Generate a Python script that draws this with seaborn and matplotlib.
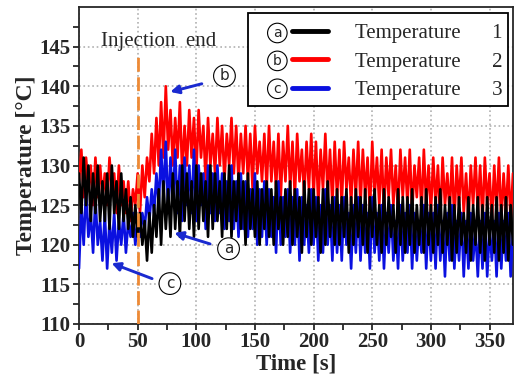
import numpy as np
import pandas as pd
import seaborn as sns
import matplotlib.pyplot as plt
from matplotlib.lines import Line2D
from matplotlib.patches import Rectangle

# time axis, one reading every 2 s
time_step = 2
t1 = [129,124,131,125,130,123,129,124,130,123,
      128,123,129,122,130,124,128,122,129,123,
      127,122,126,121,125,121,124,120,123,118,
      124,119,125,121,127,120,128,122,127,121,
      129,122,128,121,130,123,129,122,128,121,
      130,122,129,123,128,121,130,122,129,123,
      128,121,129,122,130,121,128,123,129,122,
      128,120,129,122,127,121,128,120,127,122,
      128,121,127,120,128,122,126,120,127,121,
      128,120,127,121,126,119,128,121,127,120,
      127,121,126,119,127,120,128,121,126,120,
      127,120,126,121,127,119,126,120,127,121,
      126,120,127,119,126,121,127,120,125,119,
      127,120,126,121,125,119,127,120,126,119,
      126,120,127,119,125,120,126,119,127,120,
      125,119,126,120,127,119,125,120,126,118,
      125,119,126,120,124,119,126,118,125,120,
      126,119,125,118,126,120,125,119,126,118,
      125,119,126,118,125,120]
t2 = [128,132,126,131,127,130,125,131,126,130,
      126,129,125,131,127,129,124,130,125,128,
      124,128,123,127,125,129,124,130,126,131,
      128,134,129,136,130,138,131,140,132,137,
      130,136,131,138,129,135,130,137,131,136,
      129,137,131,135,128,136,130,134,129,136,
      130,135,128,134,130,136,129,135,128,134,
      129,135,128,134,127,135,129,133,128,134,
      127,135,128,133,127,134,126,133,128,135,
      127,133,126,134,128,132,126,133,127,134,
      126,133,125,132,127,134,126,132,125,133,
      126,132,125,133,127,131,125,132,126,133,
      125,132,126,131,124,133,126,131,125,132,
      124,131,126,132,125,130,124,132,126,131,
      125,132,124,130,126,131,124,132,125,130,
      124,131,125,130,123,131,125,129,124,131,
      123,130,125,131,124,129,123,130,125,131,
      124,130,123,131,125,129,123,130,124,131,
      123,129,124,130,123,129]
t3 = [117,125,120,127,121,124,119,126,120,123,
      118,124,117,123,119,124,118,123,120,124,
      119,123,121,124,120,123,121,124,122,126,
      123,127,124,129,125,132,126,133,124,131,
      125,132,124,130,123,131,125,130,124,132,
      123,130,125,129,122,130,124,129,123,130,
      124,129,122,128,123,130,122,128,121,129,
      122,128,121,127,122,129,120,127,121,128,
      120,127,121,126,119,128,120,126,121,127,
      119,126,120,127,118,126,120,125,119,127,
      120,126,118,125,119,127,120,125,118,126,
      119,125,118,126,120,124,117,125,119,126,
      118,125,119,124,117,126,119,124,118,125,
      117,124,119,125,118,123,117,125,118,124,
      119,125,117,124,118,123,119,125,117,124,
      118,124,117,125,118,123,116,124,118,125,
      117,123,118,124,116,123,117,124,118,122,
      116,123,117,124,116,122,118,123,116,124,
      117,123,118,124,116,122]
series_names = ['Temperature 1', 'Temperature 2', 'Temperature 3']
series_tags = ['a', 'b', 'c']
colors = ['black', '#ff0000', '#0a10e0']
injection_end = 50

time = np.arange(len(t1)) * time_step
df = pd.concat([pd.DataFrame({'Time': time, 'T': v, 'series': n})
                for v, n in zip([t1, t2, t3], series_names)])

sns.set_style('ticks')
plt.rcParams['font.family'] = ['Liberation Serif', 'DejaVu Sans']

fig, ax = plt.subplots(figsize=(5.15, 3.83), dpi=100)
fig.subplots_adjust(left=79/515, right=513/515, top=1-7/383, bottom=1-324/383)

# red first, then blue, black on top
for name in [series_names[1], series_names[2], series_names[0]]:
    c = colors[series_names.index(name)]
    sns.lineplot(data=df[df.series == name], x='Time', y='T', color=c,
                 lw=1.9, estimator=None, sort=False, ax=ax, zorder=3)

ax.set_xlim(0, 370)
ax.set_ylim(110, 150)
ax.set_xticks(range(0, 351, 50))
ax.set_xticks(range(25, 370, 50), minor=True)
ax.set_yticks(range(110, 146, 5))
ax.set_yticks(np.arange(112.5, 150, 5), minor=True)
ax.grid(True, which='major', color='#b0b0b0', ls=':', lw=1.2)
ax.tick_params(which='both', direction='out', length=4, width=1.3, pad=2)
for lab in ax.get_xticklabels() + ax.get_yticklabels():
    lab.set_fontweight('bold')
    lab.set_fontsize(15)
for s in ax.spines.values():
    s.set_linewidth(1.3)
ax.set_xlabel('Time [s]', fontsize=16.5, fontweight='bold', labelpad=1)
ax.set_ylabel('Temperature [°C]', fontsize=17, fontweight='bold', labelpad=2)

# injection end marker
ax.plot([injection_end, injection_end], [110, 144], color='#ee8a35', lw=2,
        ls=(0, (5, 2)), zorder=4)
ax.text(68, 145.6, 'Injection  end', fontsize=15, ha='center', va='center')

# arrows with circled tags
arrow_blue = '#1a2ad0'
notes = [('b', (75.5, 139.2), (107, 140.4), (124, 141.3)),
         ('a', (79, 121.6), (114, 120.0), (127.5, 119.5)),
         ('c', (25.5, 117.8), (64.5, 115.6), (77.5, 115.1))]
for tag, tip, tail, lbl in notes:
    ax.annotate('', xy=tip, xytext=tail,
                arrowprops=dict(arrowstyle='-|>,head_length=0.5,head_width=0.25',
                                color=arrow_blue, lw=2.1), zorder=6)
    ax.text(lbl[0], lbl[1], tag, fontsize=11, family='DejaVu Sans',
            ha='center', va='center', zorder=7,
            bbox=dict(boxstyle='circle,pad=0.22', fc='white', ec='black', lw=0.8))

# legend box
ax.add_patch(Rectangle((0.389, 0.688), 0.599, 0.293, transform=ax.transAxes,
                       fc='white', ec='black', lw=1.3, zorder=8))
handles = [Line2D([], [], color=c, lw=3.5) for c in colors]
labels = [n.replace(' ', '      ') for n in series_names]
leg = ax.legend(handles, labels, loc='upper left', bbox_to_anchor=(0.491, 0.947),
                frameon=False, fontsize=15, handlelength=1.7, handletextpad=1.3,
                labelspacing=0.42, borderpad=0, borderaxespad=0)
leg.set_zorder(9)
for i, tag in enumerate(series_tags):
    ax.text(0.457, 0.918 - i * 0.088, tag, transform=ax.transAxes, fontsize=10,
            family='DejaVu Sans', ha='center', va='center', zorder=10,
            bbox=dict(boxstyle='circle,pad=0.2', fc='white', ec='black', lw=0.8))

fig.savefig('out.png', dpi=100)
